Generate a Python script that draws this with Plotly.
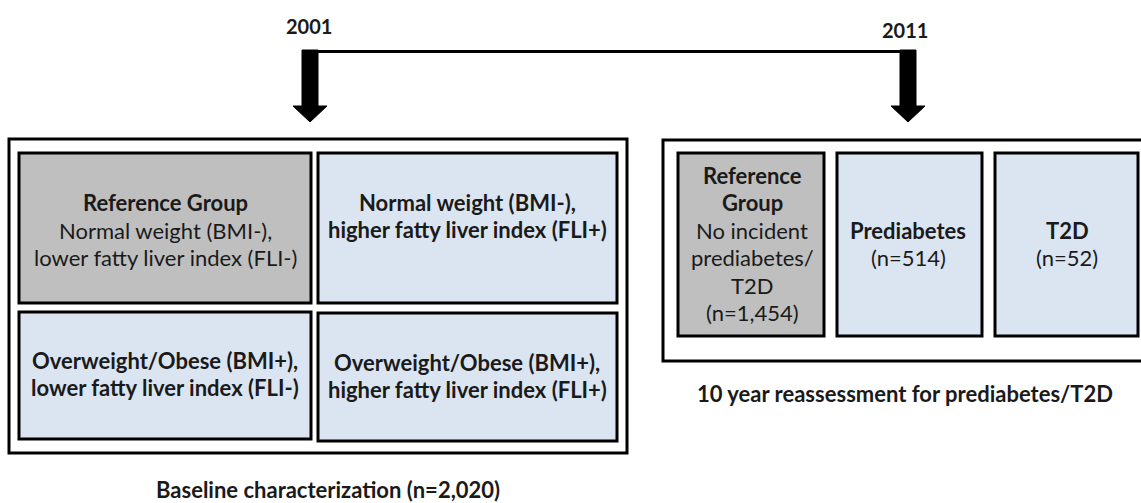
import plotly.graph_objects as go

# ---- content ----
years = ["2001", "2011"]
baseline_labels = [
    ["<b>Reference Group</b>", "Normal weight (BMI-),", "lower fatty liver index (FLI-)"],
    ["<b>Normal weight (BMI-),</b>", "<b>higher fatty liver index (FLI+)</b>"],
    ["<b>Overweight/Obese (BMI+),</b>", "<b>lower fatty liver index (FLI-)</b>"],
    ["<b>Overweight/Obese (BMI+),</b>", "<b>higher fatty liver index (FLI+)</b>"],
]
followup_labels = [
    ["<b>Reference</b>", "<b>Group</b>", "No incident", "prediabetes/", "T2D", "(n=1,454)"],
    ["<b>Prediabetes</b>", "(n=514)"],
    ["<b>T2D</b>", "(n=52)"],
]
panel_captions = ["<b>Baseline characterization (n=2,020)</b>",
                  "<b>10 year reassessment for prediabetes/T2D</b>"]
is_reference = [True, False, False, False, True, False, False]

# ---- layout geometry (pixel space) ----
W, H = 1141, 503
GREY = "#bfbfbf"
BLUE = "#dbe5f1"
FONT = "Lato"
FS = 22
LINE = 27.5

outer_boxes = [(9, 139, 627, 453), (663, 140, 1146, 361)]
inner_boxes = [
    (19, 153, 311, 303), (318, 153, 617, 303),
    (19, 312, 311, 439), (318, 313, 617, 441),
    (678, 153, 824, 336), (837, 153, 982, 336), (995, 153, 1138, 336),
]
text_centers = [
    (165, 230), (467, 216), (165, 374), (467, 376),
    (752, 244), (908, 244), (1067, 244),
]
caption_pos = [(328, 489), (905, 393)]
year_pos = [(309, 26), (905, 30)]
arrow_x = [310, 908]

fig = go.Figure()
shapes = []
for (x0, y0, x1, y1) in outer_boxes:
    shapes.append(dict(type="rect", x0=x0, y0=y0, x1=x1, y1=y1,
                       line=dict(color="black", width=3), fillcolor="white", layer="below"))
for (x0, y0, x1, y1), ref in zip(inner_boxes, is_reference):
    shapes.append(dict(type="rect", x0=x0, y0=y0, x1=x1, y1=y1,
                       line=dict(color="black", width=3),
                       fillcolor=GREY if ref else BLUE, layer="below"))

# connector line
shapes.append(dict(type="line", x0=arrow_x[0], y0=51.5, x1=arrow_x[1], y1=51.5,
                   line=dict(color="black", width=3)))
# arrows
for ax in arrow_x:
    sw, hw, top, hs, tip = 8, 17, 50, 106, 122
    path = (f"M {ax-sw},{top} L {ax+sw},{top} L {ax+sw},{hs} L {ax+hw},{hs} "
            f"L {ax},{tip} L {ax-hw},{hs} L {ax-sw},{hs} Z")
    shapes.append(dict(type="path", path=path, fillcolor="black",
                       line=dict(color="black", width=1)))

annotations = []
all_labels = baseline_labels + followup_labels
for lines, (cx, cy) in zip(all_labels, text_centers):
    n = len(lines)
    for i, t in enumerate(lines):
        y = cy + (i - (n - 1) / 2) * LINE
        annotations.append(dict(x=cx, y=y, text=t, showarrow=False,
                                xanchor="center", yanchor="middle",
                                font=dict(family=FONT, size=FS, color="#1a1a1a")))
for t, (x, y) in zip(panel_captions, caption_pos):
    annotations.append(dict(x=x, y=y, text=t, showarrow=False, xanchor="center",
                            yanchor="middle", font=dict(family=FONT, size=FS, color="#1a1a1a")))
for t, (x, y) in zip(years, year_pos):
    annotations.append(dict(x=x, y=y, text=f"<b>{t}</b>", showarrow=False, xanchor="center",
                            yanchor="middle", font=dict(family=FONT, size=20, color="#1a1a1a")))

fig.update_layout(
    width=W, height=H, margin=dict(l=0, r=0, t=0, b=0),
    paper_bgcolor="white", plot_bgcolor="white",
    xaxis=dict(range=[0, W], visible=False, fixedrange=True),
    yaxis=dict(range=[H, 0], visible=False, fixedrange=True),
    shapes=shapes, annotations=annotations, showlegend=False,
)
fig.write_html("out.html", config={"displayModeBar": False},
               post_script="document.body.style.margin='0';document.body.style.overflow='hidden';")
